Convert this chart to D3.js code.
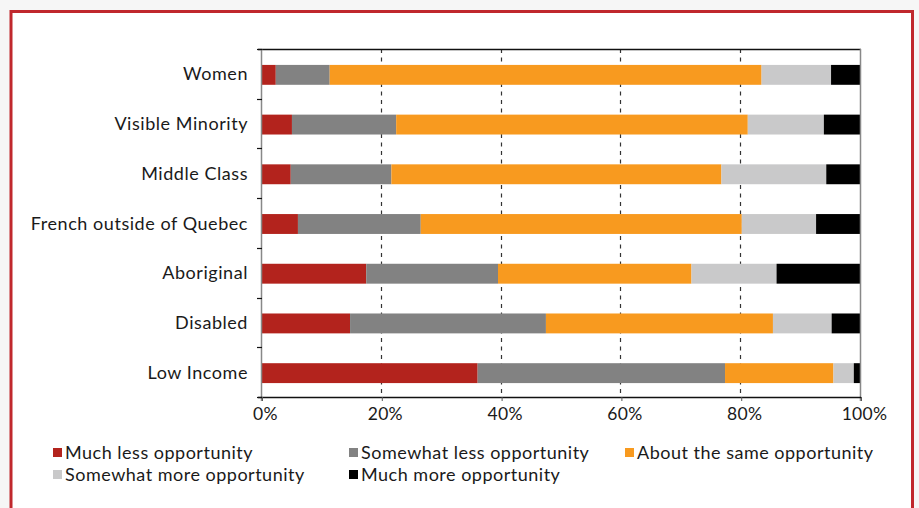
<!DOCTYPE html>
<html><head><meta charset="utf-8">
<script src="https://cdn.jsdelivr.net/npm/d3@7"></script>
<style>
html,body{margin:0;padding:0;background:#f6f6f6;}
svg{display:block;}
text{font-family:Lato,"Open Sans",sans-serif;fill:#1a1a1a;}
</style></head>
<body>
<svg id="chart" width="919" height="508"></svg>
<script>
const categories = ["Women","Visible Minority","Middle Class","French outside of Quebec","Aboriginal","Disabled","Low Income"];
const seriesNames = ["Much less opportunity","Somewhat less opportunity","About the same opportunity","Somewhat more opportunity","Much more opportunity"];
const muchLess     = [2.3, 5.0, 4.8, 6.0, 17.4, 14.7, 36.0];
const somewhatLess = [9.0, 17.4, 16.8, 20.5, 22.0, 32.7, 41.3];
const aboutSame    = [72.1, 58.7, 55.1, 53.6, 32.3, 37.9, 18.1];
const somewhatMore = [11.6, 12.7, 17.5, 12.4, 14.2, 9.8, 3.4];
const muchMore     = [5.0, 6.2, 5.8, 7.5, 14.1, 4.9, 1.2];
const xTicks = [0, 20, 40, 60, 80, 100];
const colors = ["#b3231d","#828282","#f89a1f","#c9c9ca","#000000"];

const seriesValues = [muchLess, somewhatLess, aboutSame, somewhatMore, muchMore];
const rows = categories.map((c, i) => {
  const r = {category: c};
  seriesNames.forEach((s, j) => r[s] = seriesValues[j][i]);
  return r;
});

const svg = d3.select("#chart");
// frame
svg.append("rect").attr("x", 11).attr("y", 11.5).attr("width", 901.5).attr("height", 520)
  .attr("fill", "#ffffff").attr("stroke", "#c0282d").attr("stroke-width", 3);

const x0 = 262, x1 = 861, y0 = 49, y1 = 397;
const x = d3.scaleLinear().domain([0, 100]).range([x0, x1]);
const y = d3.scaleBand().domain(categories).range([y0, y1]).paddingInner(0.6).paddingOuter(0.3);
const step = y.step();

const stacked = d3.stack().keys(seriesNames)(rows);

// gridlines
svg.append("g").selectAll("line").data(xTicks.filter(t => t > 0 && t < 100)).join("line")
  .attr("x1", d => Math.round(x(d)) - 0.5).attr("x2", d => Math.round(x(d)) - 0.5)
  .attr("y1", y0).attr("y2", y1)
  .attr("stroke", "#333").attr("stroke-width", 1.2).attr("stroke-dasharray", "4,4.5");

// bars
svg.append("g").selectAll("g").data(stacked).join("g")
  .attr("fill", (d, i) => colors[i])
  .selectAll("rect").data(d => d).join("rect")
  .attr("x", d => x(d[0])).attr("width", d => x(d[1]) - x(d[0]))
  .attr("y", d => y(d.data.category) + 1).attr("height", y.bandwidth());

// top line and right border
svg.append("line").attr("x1", x0 - 4).attr("x2", x1).attr("y1", y0 + 0.5).attr("y2", y0 + 0.5)
  .attr("stroke", "#111").attr("stroke-width", 1.5);
svg.append("line").attr("x1", x1 - 0.5).attr("x2", x1 - 0.5).attr("y1", y0).attr("y2", y1 + 4)
  .attr("stroke", "#888").attr("stroke-width", 1.5);

// y axis line
svg.append("line").attr("x1", x0 - 0.5).attr("x2", x0 - 0.5).attr("y1", y0).attr("y2", y1 + 4)
  .attr("stroke", "#888").attr("stroke-width", 1.5);
// y ticks at band boundaries
svg.append("g").selectAll("line").data(d3.range(categories.length + 1)).join("line")
  .attr("x1", x0 - 5).attr("x2", x0)
  .attr("y1", i => Math.round(y0 + i * step) + 0.5).attr("y2", i => Math.round(y0 + i * step) + 0.5)
  .attr("stroke", "#111").attr("stroke-width", 1.2);

// x axis
const xAxis = d3.axisBottom(x).tickValues(xTicks).tickFormat(d => d + "%").tickSize(4).tickPadding(7);
const gx = svg.append("g").attr("transform", `translate(0,${y1})`).call(xAxis);
gx.select(".domain").attr("stroke", "#111").attr("stroke-width", 1.5).attr("d", `M${x0 - 4},0.5H${x1}`);
gx.selectAll(".tick line").attr("stroke", "#555");
gx.selectAll(".tick text").attr("font-size", 17.5).attr("font-family", "Lato, sans-serif")
  .attr("fill", "#1a1a1a").attr("dx", 3).attr("letter-spacing", 0.3);

// category labels
svg.append("g").selectAll("text").data(categories).join("text")
  .attr("x", 248).attr("y", d => y(d) + y.bandwidth() / 2 - 0.5)
  .attr("text-anchor", "end").attr("dominant-baseline", "central")
  .attr("font-size", 18).attr("letter-spacing", 0.55).text(d => d);

// legend
const legendPos = [[53, 452], [349, 452], [625, 452], [53, 474], [349, 474]];
const lg = svg.append("g").selectAll("g").data(seriesNames).join("g")
  .attr("transform", (d, i) => `translate(${legendPos[i][0]},${legendPos[i][1]})`);
lg.append("rect").attr("x", 0).attr("y", -4).attr("width", 9).attr("height", 9).attr("fill", (d, i) => colors[i]);
lg.append("text").attr("x", 12).attr("y", 0).attr("dominant-baseline", "central")
  .attr("font-size", 18).attr("letter-spacing", 0.5).text(d => d);
</script>
</body></html>
